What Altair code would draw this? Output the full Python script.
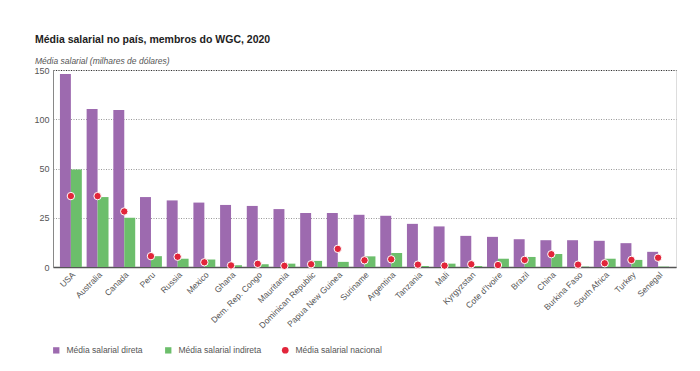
import altair as alt
import pandas as pd

countries = ["USA", "Australia", "Canada", "Peru", "Russia", "Mexico", "Ghana",
             "Dem. Rep. Congo", "Mauritania", "Dominican Republic", "Papua New Guinea",
             "Suriname", "Argentina", "Tanzania", "Mali", "Kyrgyzstan", "Cote d'Ivoire",
             "Brazil", "China", "Burkina Faso", "South Africa", "Turkey", "Senegal"]
direta = [146, 110.5, 109.5, 35.5, 33.8, 32.7, 31.5, 31.0, 29.4, 27.4, 27.4, 26.5, 26.0,
          21.9, 20.6, 15.8, 15.3, 14.1, 13.6, 13.6, 13.3, 12.1, 7.7]
indireta = [49.5, 35.5, 25.0, 5.5, 4.2, 3.8, 0.9, 1.4, 1.7, 3.1, 2.6, 5.4, 7.1,
            0.5, 1.7, 0.5, 4.2, 5.1, 6.6, 0.2, 4.2, 3.6, 0.2]
nacional = [36.0, 36.0, 28.2, 5.5, 5.2, 2.4, 0.8, 1.6, 0.6, 1.4, 9.2, 3.4, 3.9,
            1.2, 0.7, 1.4, 1.0, 3.6, 6.5, 1.2, 1.9, 3.6, 4.7]

series_names = ["Média salarial direta", "Média salarial indireta"]
nat_name = "Média salarial nacional"
grid_vals = [0, 12.5, 25, 37.5, 50, 75, 100, 125, 150]
label_vals = [0, 25, 50, 100, 150]

bars_df = pd.DataFrame(
    [{"country": c, "series": series_names[0], "value": d} for c, d in zip(countries, direta)]
    + [{"country": c, "series": series_names[1], "value": i} for c, i in zip(countries, indireta)]
)
nat_df = pd.DataFrame({"country": countries, "series": nat_name, "value": nacional})

W, H = 623, 197
FONT = "Liberation Sans"

yscale = alt.Scale(domain=[0, 50, 150], range=[H, H / 2, 0], nice=False)
xscale = alt.Scale(paddingInner=0.18, paddingOuter=0.26)

x_enc = alt.X("country:N", sort=countries, scale=xscale,
              axis=alt.Axis(title=None, labelAngle=-45, labelAlign="right",
                            labelBaseline="top", labelFontSize=8.5, labelColor="#555",
                            labelFont=FONT, ticks=False, labelPadding=3,
                            domainColor="#555", domainWidth=1.5, labelOverlap=False))

bars = alt.Chart(bars_df).mark_bar().encode(
    x=x_enc,
    xOffset=alt.XOffset("series:N", sort=series_names,
                        scale=alt.Scale(paddingInner=0, paddingOuter=0)),
    y=alt.Y("value:Q", scale=yscale,
            axis=alt.Axis(title=None, values=grid_vals,
                          labelExpr="indexof([0,25,50,100,150], datum.value) >= 0 ? datum.label : ''",
                          labelFontSize=9, labelColor="#555", labelFont=FONT,
                          ticks=False, labelPadding=4,
                          grid=True, gridDash=[1, 1.5],
                          gridColor={"condition": {"test": "datum.value == 150", "value": "#333"},
                                     "value": "#999"},
                          gridWidth=1, domainColor="#888", domainWidth=1)),
    color=alt.Color("series:N", sort=series_names,
                    scale=alt.Scale(domain=series_names, range=["#9d6aaf", "#6cbe6b"]),
                    legend=alt.Legend(title=None, orient="none", legendX=-1, legendY=276,
                                      direction="horizontal", symbolType="square",
                                      symbolSize=40, symbolStrokeWidth=0,
                                      labelFontSize=8.5, labelColor="#555", labelFont=FONT,
                                      columnPadding=21, labelOffset=6)),
)

points = alt.Chart(nat_df).mark_circle(size=55, opacity=1, stroke="white", strokeWidth=1).encode(
    x=alt.X("country:N", sort=countries, scale=xscale),
    y=alt.Y("value:Q", scale=yscale),
    fill=alt.Fill("series:N",
                  scale=alt.Scale(domain=[nat_name], range=["#e2253a"]),
                  legend=alt.Legend(title=None, orient="none", legendX=228, legendY=276,
                                    symbolType="circle", symbolSize=45, symbolStrokeWidth=0,
                                    labelFontSize=8.5, labelColor="#555", labelFont=FONT,
                                    labelOffset=6)),
)

chart = alt.layer(bars, points).resolve_scale(color="independent", fill="independent").properties(
    width=W, height=H,
    autosize=alt.AutoSizeParams(type="none"),
    padding={"left": 45, "top": 62, "right": 16, "bottom": 95},
    title=alt.TitleParams(
        text="Média salarial no país, membros do WGC, 2020",
        subtitle="Média salarial (milhares de dólares)",
        anchor="start", frame="group", dx=-18, offset=1,
        font=FONT, fontSize=10.5, fontWeight="bold", color="#222",
        subtitleFont=FONT, subtitleFontSize=8.5, subtitleFontStyle="italic",
        subtitleColor="#555", subtitlePadding=11,
    ),
).configure_view(stroke=None).configure(background="white")

chart.save("out.html", embed_options={"renderer": "svg", "actions": False})
